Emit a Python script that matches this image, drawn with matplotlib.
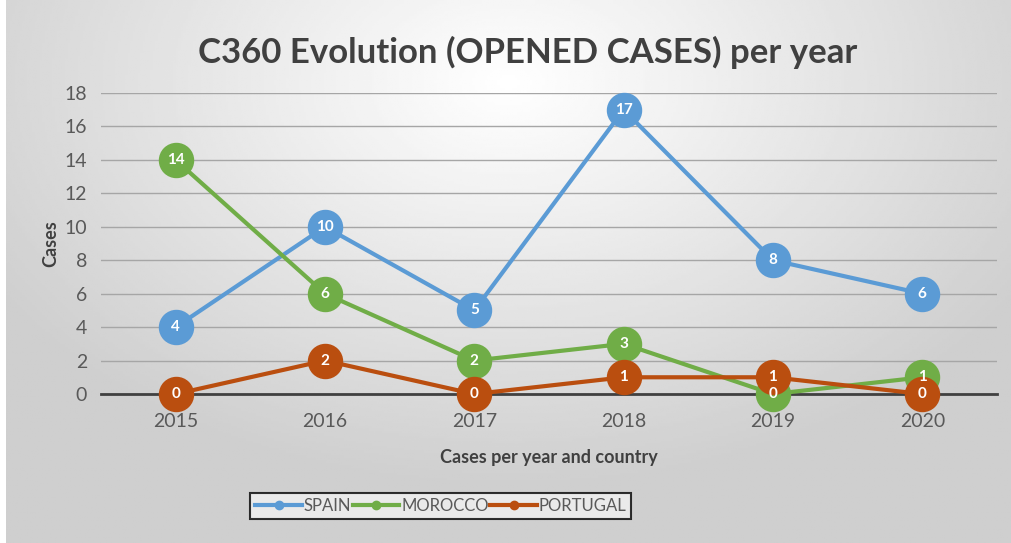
import numpy as np
import matplotlib.pyplot as plt

years = ["2015", "2016", "2017", "2018", "2019", "2020"]
spain = [4, 10, 5, 17, 8, 6]
morocco = [14, 6, 2, 3, 0, 1]
portugal = [0, 2, 0, 1, 1, 0]

series = [("SPAIN", spain, "#5B9BD5"),
          ("MOROCCO", morocco, "#70AD47"),
          ("PORTUGAL", portugal, "#BA4E0F")]

plt.rcParams['font.family'] = ['Lato', 'DejaVu Sans']

fig = plt.figure(figsize=(10.11, 5.43), dpi=100)

# background gradient, light in the middle top, grey at the edges
bg = fig.add_axes([0.006, 0.0, 0.994, 1.0], zorder=-10)
gx, gy = np.meshgrid(np.linspace(-1, 1, 400), np.linspace(-0.3, 1.7, 220))
r = np.sqrt((gx / 1.0) ** 2 + (gy / 1.25) ** 2)
shade = 1.0 - 0.19 * np.clip(r, 0, 1.2) / 1.2
bg.imshow(shade, cmap="gray", vmin=0, vmax=1, aspect="auto", extent=[0, 1, 0, 1])
bg.axis("off")

ax = fig.add_axes([0.0999, 0.2744, 0.8862, 0.5543])
ax.patch.set_alpha(0)
x = np.arange(len(years))

for name, vals, col in series:
    ax.plot(x, vals, color=col, lw=3, marker="o", markersize=24.5,
            markeredgecolor=col, label=name, zorder=3, clip_on=False)

for name, vals, col in series:
    for xi, v in zip(x, vals):
        ax.text(xi, v, str(v), color="white", fontsize=11, fontweight="bold",
                ha="center", va="center", zorder=5)

ax.set_xlim(-0.5, len(years) - 0.5)
ax.set_ylim(0, 18)
ax.set_yticks(range(0, 19, 2))
ax.set_xticks(x)
ax.set_xticklabels(years)
ax.yaxis.grid(True, color="#a6a6a6", lw=1)
ax.set_axisbelow(True)
for s in ["top", "right", "left"]:
    ax.spines[s].set_visible(False)
ax.spines["bottom"].set_color("#404040")
ax.spines["bottom"].set_linewidth(2)
ax.spines["bottom"].set_zorder(2)
ax.tick_params(axis="both", length=0, colors="#595959", labelsize=14)
ax.tick_params(axis="x", pad=14)
ax.tick_params(axis="y", pad=10)

ax.set_xlabel("Cases per year and country", fontsize=13, fontweight="bold",
              color="#404040", labelpad=13)
ax.set_ylabel("Cases", fontsize=13, fontweight="bold", color="#404040", labelpad=4)

fig.text(0.522, 0.903, "C360 Evolution (OPENED CASES) per year", fontsize=25,
         fontweight="bold", color="#404040", ha="center", va="center")

handles = [plt.Line2D([], [], color=c, lw=3, marker="o", markersize=6) for _, _, c in series]
leg = fig.legend(handles, [n for n, _, _ in series], loc="center",
                 bbox_to_anchor=(0.436, 0.068), ncol=3, fontsize=12,
                 frameon=True, fancybox=False, edgecolor="black",
                 handlelength=2.8, handletextpad=0.1, columnspacing=0.1,
                 borderpad=0.3, labelcolor="#595959")
leg.get_frame().set_linewidth(1.5)
leg.get_frame().set_facecolor("#f2f2f2")

fig.savefig("out.png", dpi=100)
